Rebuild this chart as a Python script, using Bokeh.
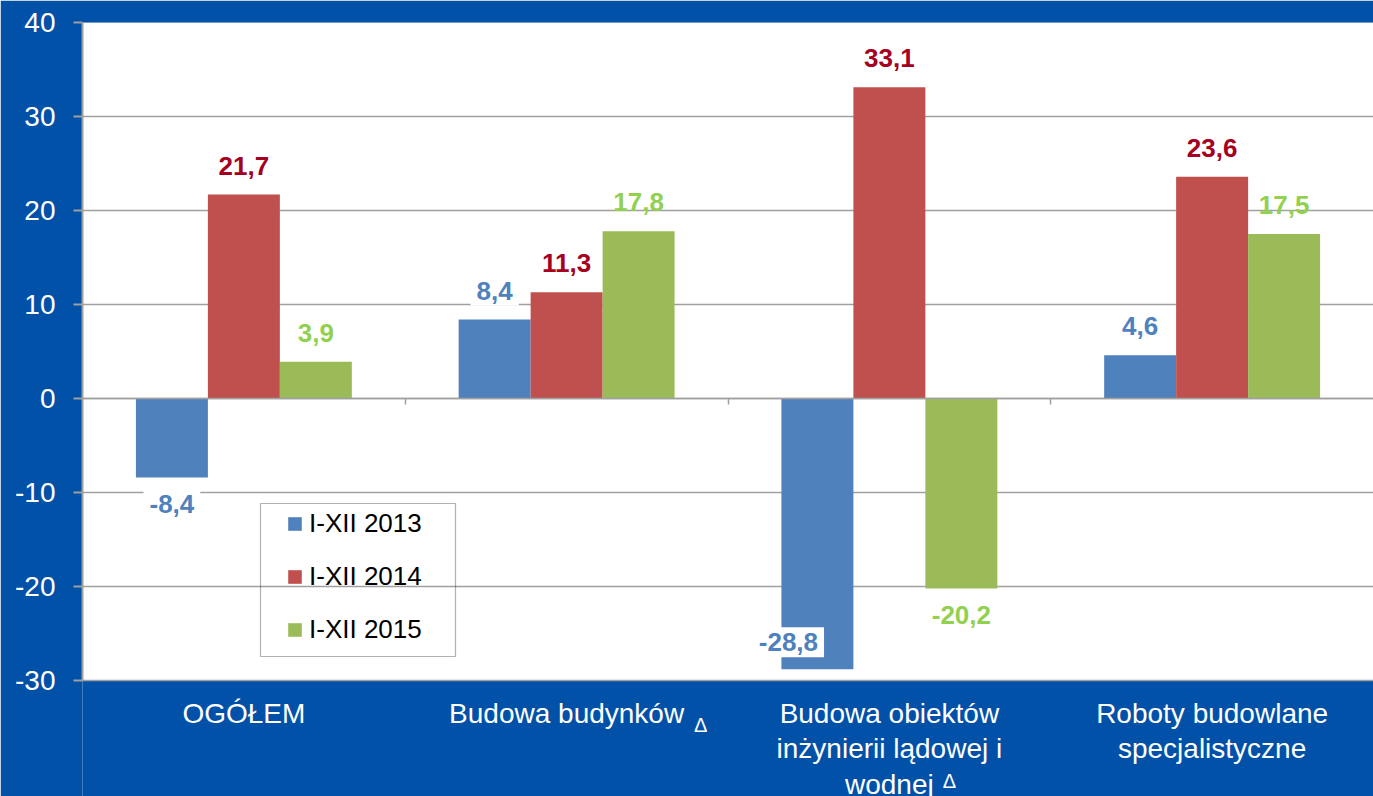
import numpy as np
from bokeh.plotting import figure
from bokeh.models import ColumnDataSource, FixedTicker, BoxAnnotation, Range1d
from bokeh.core.properties import value
from bokeh.embed import file_html
from bokeh.resources import INLINE

# ---- data ----
categories = [
    "OGÓŁEM",
    "Budowa budynków",
    "Budowa obiektów\ninżynierii lądowej i\nwodnej",
    "Roboty budowlane\nspecjalistyczne",
]
category_marks = ["", "Δ", "Δ", ""]
series = ["I-XII 2013", "I-XII 2014", "I-XII 2015"]
v2013 = [-8.4, 8.4, -28.8, 4.6]
v2014 = [21.7, 11.3, 33.1, 23.6]
v2015 = [3.9, 17.8, -20.2, 17.5]
y_ticks = [-30, -20, -10, 0, 10, 20, 30, 40]

# ---- style ----
BAR_COLORS = ["#4F81BD", "#C0504D", "#9BBB59"]
LABEL_COLORS = ["#4F81BD", "#A50021", "#92D050"]
BG = "#0251A8"
GRID = "#A0A0A0"
FONT = "Liberation Sans"

W, H = 1373, 796
LEFT, TOP = 82, 22
PLOT_H = 658            # height of the white plotting area (-30..40)
FRAME_W = W - LEFT
Y0, Y1 = y_ticks[0], y_ticks[-1]
PX = PLOT_H / (Y1 - Y0)
EXTRA = (H - TOP - PLOT_H) / PX   # label strip below the plot, in data units
NCAT = len(categories)
GROUP_PX = FRAME_W / NCAT


def px_x(px):
    return (px - LEFT) / GROUP_PX


def px_y(py):
    return Y1 - (py - TOP) / PX


p = figure(width=W, height=H, output_backend="svg", toolbar_location=None,
           x_range=Range1d(0, NCAT), y_range=Range1d(Y0 - EXTRA, Y1),
           min_border_left=LEFT, min_border_right=0, min_border_top=TOP,
           min_border_bottom=0)
p.background_fill_color = BG
p.border_fill_color = BG
p.outline_line_color = None

# white plotting area (-30..40); the strip below stays blue for the labels
p.add_layout(BoxAnnotation(bottom=Y0, fill_color="white", fill_alpha=1.0,
                           line_color=None, level="image"))

bw = 0.223
offsets = [-bw, 0.0, bw]
centers = np.arange(NCAT) + 0.5

for i, (name, vals) in enumerate(zip(series, [v2013, v2014, v2015])):
    yoff, xoff = [], []
    for v in vals:
        if v >= 0:
            yoff.append(-29)
            xoff.append(0)
        else:
            dist = (v - Y0) * PX
            if dist > 45:
                yoff.append(27)
                xoff.append(0)
            else:
                yoff.append(-27)
                xoff.append(-29)
    src = ColumnDataSource(dict(
        x=centers + offsets[i],
        top=vals,
        label=[f"{v:.1f}".replace(".", ",") for v in vals],
        yoff=yoff,
        xoff=xoff,
    ))
    p.vbar(x="x", top="top", bottom=0, width=bw, fill_color=BAR_COLORS[i],
           line_color=None, source=src, legend_label=name)
    kw = {}
    if i == 0:
        kw = dict(background_fill_color="white", padding=6)
    p.text(x="x", y="top", text="label", x_offset="xoff", y_offset="yoff",
           source=src, text_align="center", text_baseline="middle",
           text_font=value(FONT), text_font_style="bold",
           text_font_size="26px", text_color=LABEL_COLORS[i], **kw)

# y axis
p.yaxis.ticker = FixedTicker(ticks=y_ticks)
p.yaxis.bounds = (Y0, Y1)
p.yaxis.major_label_overrides = {t: str(t) for t in y_ticks}
p.yaxis.major_label_text_color = "white"
p.yaxis.major_label_text_font = FONT
p.yaxis.major_label_text_font_size = "28px"
p.yaxis.axis_line_color = GRID
p.yaxis.axis_line_width = 2
p.yaxis.major_tick_line_color = GRID
p.yaxis.major_tick_line_width = 2
p.yaxis.major_tick_out = 9
p.yaxis.major_tick_in = 0
p.yaxis.minor_tick_line_color = None
p.yaxis.major_label_standoff = 18

# x axis at zero with group separators
p.xaxis.fixed_location = 0
p.xaxis.ticker = FixedTicker(ticks=list(range(1, NCAT)))
p.xaxis.axis_line_color = GRID
p.xaxis.axis_line_width = 1.5
p.xaxis.major_tick_line_color = GRID
p.xaxis.major_tick_line_width = 1.5
p.xaxis.major_tick_out = 6
p.xaxis.major_tick_in = 0
p.xaxis.minor_tick_line_color = None
p.xaxis.major_label_text_color = None

p.xgrid.grid_line_color = None
p.ygrid.ticker = FixedTicker(ticks=y_ticks)
p.ygrid.grid_line_color = GRID
p.ygrid.grid_line_width = 1.5

# category labels
cat_src = ColumnDataSource(dict(x=centers, text=categories))
p.text(x="x", y=px_y(697), text="text", source=cat_src, text_align="center",
       text_baseline="top", text_color="white", text_font=value(FONT),
       text_font_size="28px", text_line_height=1.15)

mark_pos = {1: (134, 724), 2: (60, 780)}
mx, my, mt = [], [], []
for i, m in enumerate(category_marks):
    if m:
        dx, py = mark_pos[i]
        mx.append(float(centers[i] + dx / GROUP_PX))
        my.append(px_y(py))
        mt.append(m)
p.text(x=mx, y=my, text=mt, text_align="center", text_baseline="middle",
       text_color="white", text_font=value(FONT), text_font_size="20px")

# legend
leg = p.legend[0]
leg.location = (194, 25 + (H - TOP - PLOT_H))
leg.orientation = "vertical"
leg.padding = 10
leg.margin = 0
leg.spacing = 22
leg.glyph_width = 17
leg.glyph_height = 17
leg.label_height = 30
leg.label_standoff = 6
leg.label_text_font = FONT
leg.label_text_font_size = "26px"
leg.label_text_color = "black"
leg.border_line_alpha = 0
leg.background_fill_alpha = 0

# legend frame (page pixels 260..455 x 503..656)
p.add_layout(BoxAnnotation(left=px_x(260), right=px_x(455), top=px_y(503),
                           bottom=px_y(656), fill_alpha=0, line_color="black",
                           line_width=1.2, level="overlay"))

open("out.html", "w").write(file_html(p, INLINE))
